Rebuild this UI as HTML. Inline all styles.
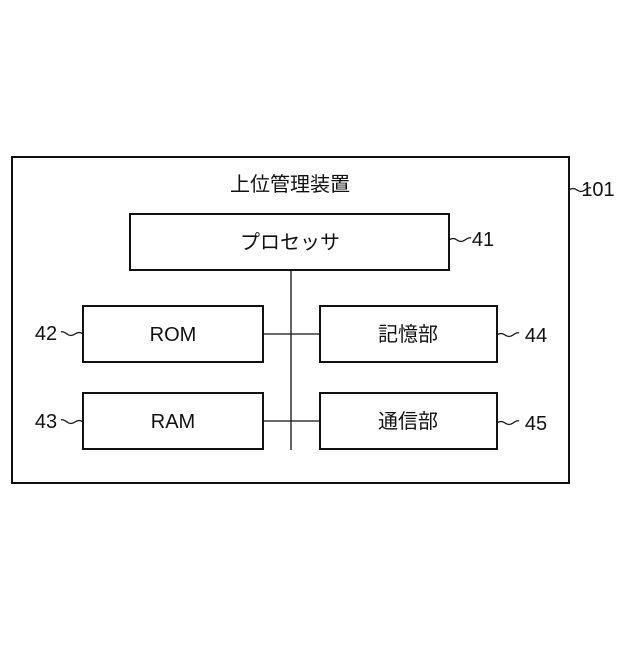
<!DOCTYPE html>
<html><head><meta charset="utf-8"><style>
body{margin:0;background:#fff;}
svg text{font-family:"Liberation Sans","Noto Sans CJK JP",sans-serif;fill:#111;}
</style></head><body>
<svg width="640" height="640" viewBox="0 0 640 640" xmlns="http://www.w3.org/2000/svg">
<g fill="none" stroke="#111" stroke-width="2">
<rect x="12" y="157" width="557" height="326"/>
<rect x="130" y="214" width="319" height="56"/>
<rect x="83" y="306" width="180" height="56"/>
<rect x="320" y="306" width="177" height="56"/>
<rect x="83" y="393" width="180" height="56"/>
<rect x="320" y="393" width="177" height="56"/>
</g>
<g fill="none" stroke="#111" stroke-width="1.3">
<line x1="291" y1="270" x2="291" y2="450"/>
<line x1="263" y1="334" x2="320" y2="334"/>
<line x1="263" y1="421" x2="320" y2="421"/>
<path d="M569 190 q4 -3 8 0 t8 0 t6 -2"/>
<path d="M449 240 q4 -3 8 0 t8 0 t6 -2"/>
<path d="M83 334 q-4 -3 -8 0 t-8 0 t-6 -2"/>
<path d="M83 422 q-4 -3 -8 0 t-8 0 t-6 -2"/>
<path d="M497 335 q4 -3 8 0 t8 0 t6 -2"/>
<path d="M497 423 q4 -3 8 0 t8 0 t6 -2"/>
</g>
<g font-size="20">
<text x="290" y="191" text-anchor="middle">上位管理装置</text>
<text x="290" y="249" text-anchor="middle">プロセッサ</text>
<text x="173" y="341" text-anchor="middle">ROM</text>
<text x="408" y="341" text-anchor="middle">記憶部</text>
<text x="173" y="428" text-anchor="middle">RAM</text>
<text x="408" y="428" text-anchor="middle">通信部</text>
<text x="598" y="196" text-anchor="middle">101</text>
<text x="483" y="246" text-anchor="middle">41</text>
<text x="46" y="340" text-anchor="middle">42</text>
<text x="46" y="428" text-anchor="middle">43</text>
<text x="536" y="342" text-anchor="middle">44</text>
<text x="536" y="430" text-anchor="middle">45</text>
</g>
</svg>
</body></html>
